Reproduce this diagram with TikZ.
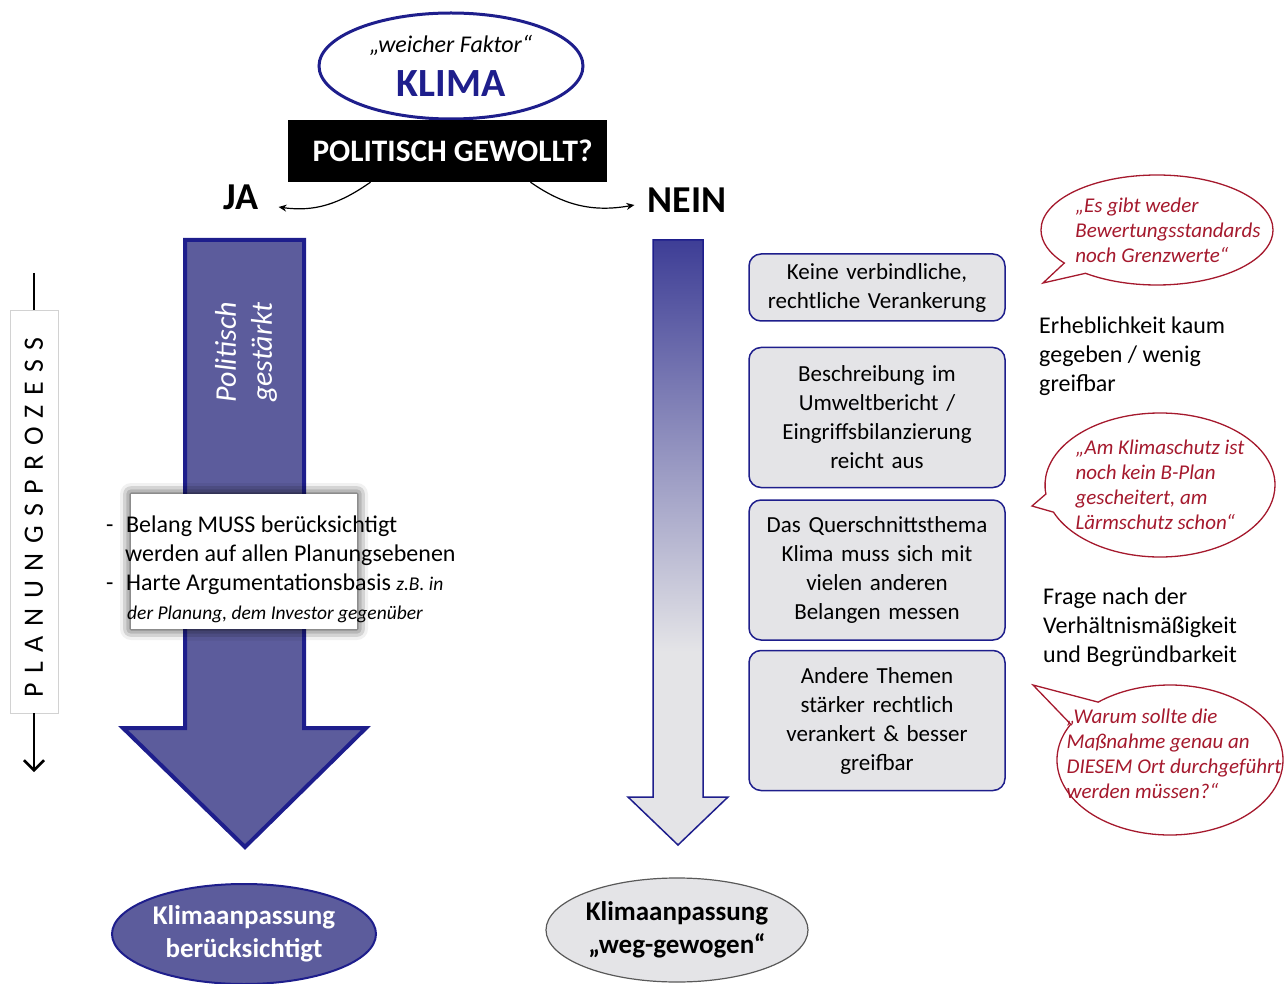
\documentclass[tikz,border=0pt]{standalone}
\usepackage{fontspec}
\setmainfont{Carlito}
\usepackage{tikz}
\usepackage{xcolor}
\usetikzlibrary{shapes.geometric, shapes.callouts, arrows.meta, positioning, calc, shadows.blur}
\definecolor{dunkelblau}{RGB}{30,30,140}
\definecolor{pfeilblau}{RGB}{92,92,156}
\definecolor{neinblau}{RGB}{62,62,150}
\definecolor{hellgrau}{RGB}{228,228,231}
\definecolor{zitatrot}{RGB}{165,25,45}
\newcommand{\schrift}[2]{\fontsize{#1}{#2}\selectfont}
\pgfdeclareverticalshading{neinverlauf}{100bp}{color(0bp)=(hellgrau); color(41bp)=(hellgrau); color(75bp)=(neinblau); color(100bp)=(neinblau)}

\begin{document}
\begin{tikzpicture}[
    x=1pt, y=1pt,
    node distance=10pt,
    kasten/.style={rectangle, rounded corners=12pt, draw=dunkelblau, line width=1.5pt, fill=hellgrau, text width=246pt, minimum width=256pt, align=center, font=\schrift{23}{29}, inner xsep=5pt, inner ysep=0pt},
    blase/.style={ellipse callout, draw=zitatrot, line width=1.3pt, fill=white, inner sep=0pt},
    zitat/.style={text=zitatrot, font=\itshape\schrift{21}{25}, align=left, inner sep=0pt},
    notiz/.style={font=\schrift{24}{29}, align=left, inner sep=0pt, anchor=west},
    antwort/.style={font=\bfseries\schrift{38}{38}, inner sep=0pt},
    ergebnis/.style={ellipse, line width=2pt, font=\bfseries\schrift{27}{33}, align=center, inner sep=0pt}
]
\useasboundingbox (0,0) rectangle (1288,-984);

\node[ellipse, draw=dunkelblau, line width=3pt, fill=white, minimum width=264pt, minimum height=106pt, inner sep=0pt, align=center] (klima) at (451,-66) {{\itshape\schrift{24}{26}„weicher Faktor“}\\[14pt]{\bfseries\schrift{40}{40}\textcolor{dunkelblau}{KLIMA}}};
\node[fill=black, minimum width=319pt, minimum height=62pt, text=white, font=\bfseries\schrift{31.3}{31}] (frage) at (447.5,-151) {\hspace*{10pt}POLITISCH GEWOLLT?};
\node[antwort] (ja) at (241,-197) {JA};
\node[antwort] (nein) at (687,-200) {NEIN};
\draw[line width=1.2pt, -{Stealth[length=8pt, width=7pt]}] ([xshift=-77pt]frage.south) to[out=-145, in=-8] ([xshift=20pt, yshift=-10pt]ja.east);
\draw[line width=1.2pt, -{Stealth[length=8pt, width=7pt]}] ([xshift=83pt]frage.south) to[out=-35, in=190] ([xshift=-13pt, yshift=-5pt]nein.west);

\draw[dunkelblau, line width=4pt, fill=pfeilblau] (185,-240) -- (304,-240) -- (304,-728) -- (366,-728) -- (245,-847) -- (123,-728) -- (185,-728) -- cycle;
\node[rotate=90, text=white, font=\itshape\schrift{30}{36}, align=center, inner sep=0pt] (gestaerkt) at (246,-352) {Politisch\\gestärkt};
\node[fill=white, minimum width=226pt, minimum height=135pt, blur shadow={shadow xshift=0pt, shadow yshift=0pt, shadow blur radius=11pt, shadow opacity=90}] (belang) at (244,-561.5) {};
\node[notiz, font=\schrift{24}{29}] (liste) at (106,-569) {\makebox[20pt][l]{-}Belang MUSS berücksichtigt\\
\hspace*{19pt}werden auf allen Planungsebenen\\
\makebox[20pt][l]{-}Harte Argumentationsbasis {\itshape\schrift{19.5}{26}z.B. in}\\
\hspace*{21pt}{\itshape\schrift{19.5}{26}der Planung, dem Investor gegenüber}};

\shade[shading=neinverlauf] (653,-240) -- (703,-240) -- (703,-797) -- (728,-797) -- (678,-845) -- (628,-797) -- (653,-797) -- cycle;
\draw[dunkelblau, line width=1.5pt] (653,-240) -- (703,-240) -- (703,-797) -- (728,-797) -- (678,-845) -- (628,-797) -- (653,-797) -- cycle;

\node[kasten, minimum height=67pt] (k1) at (877,-287.5) {Keine verbindliche,\\rechtliche Verankerung};
\node[kasten, minimum height=140pt, below=25pt of k1] (k2) {Beschreibung im\\Umweltbericht /\\Eingriffsbilanzierung\\reicht aus};
\node[kasten, minimum height=140pt, below=11pt of k2] (k3) {Das Querschnittsthema\\Klima muss sich mit\\vielen anderen\\Belangen messen};
\node[kasten, minimum height=140pt, below=9pt of k3] (k4) {Andere Themen\\stärker rechtlich\\verankert \& besser\\greifbar};

\node[notiz] (erheblich) at (1039,-356) {Erheblichkeit kaum\\gegeben / wenig\\greifbar};
\node[notiz] (verhaeltnis) at (1043,-627) {Frage nach der\\Verhältnismäßigkeit\\und Begründbarkeit};

\node[blase, minimum width=232pt, minimum height=110pt, callout absolute pointer={(1043,-283)}] (blase1) at (1157,-230) {};
\node[zitat] (zitat1) at ([xshift=11pt]blase1.center) {„Es gibt weder\\Bewertungsstandards\\noch Grenzwerte“};
\node[blase, minimum width=230pt, minimum height=144pt, callout absolute pointer={(1032,-506)}] (blase2) at (1160,-485) {};
\node[zitat] (zitat2) at (blase2.center) {„Am Klimaschutz ist\\noch kein B-Plan\\gescheitert, am\\Lärmschutz schon“};
\node[blase, minimum width=226pt, minimum height=150pt, callout absolute pointer={(1033,-685)}, callout pointer arc=22] (blase3) at (1170,-760) {};
\node[zitat] (zitat3) at ([xshift=4pt, yshift=6.5pt]blase3.center) {„Warum sollte die\\Maßnahme genau an\\DIESEM Ort durchgeführt\\werden müssen?“};

\coordinate (pstart) at (34,-273);
\coordinate (pende) at (34,-772);
\node[rotate=90, draw=gray!35, fill=white, minimum width=403pt, minimum height=48pt, inner sep=0pt, font=\schrift{28}{28}\addfontfeature{LetterSpace=34}] (prozess) at (34,-511.5) {\hspace*{-12pt}PLANUNGSPROZESS};
\draw[line width=2.5pt] (pstart) -- (prozess.east);
\draw[line width=2.5pt, -{Straight Barb[length=10pt, width=20pt]}] (prozess.west) -- (pende);

\node[ergebnis, draw=dunkelblau, fill=pfeilblau, text=white, minimum width=264pt, minimum height=100pt] (berueck) at (244,-934) {Klimaanpassung\\berücksichtigt};
\node[ergebnis, draw=gray!70!black, line width=1.2pt, fill=hellgrau, minimum width=262pt, minimum height=104pt] (weg) at (677,-930) {Klimaanpassung\\„weg-gewogen“};
\end{tikzpicture}
\end{document}
